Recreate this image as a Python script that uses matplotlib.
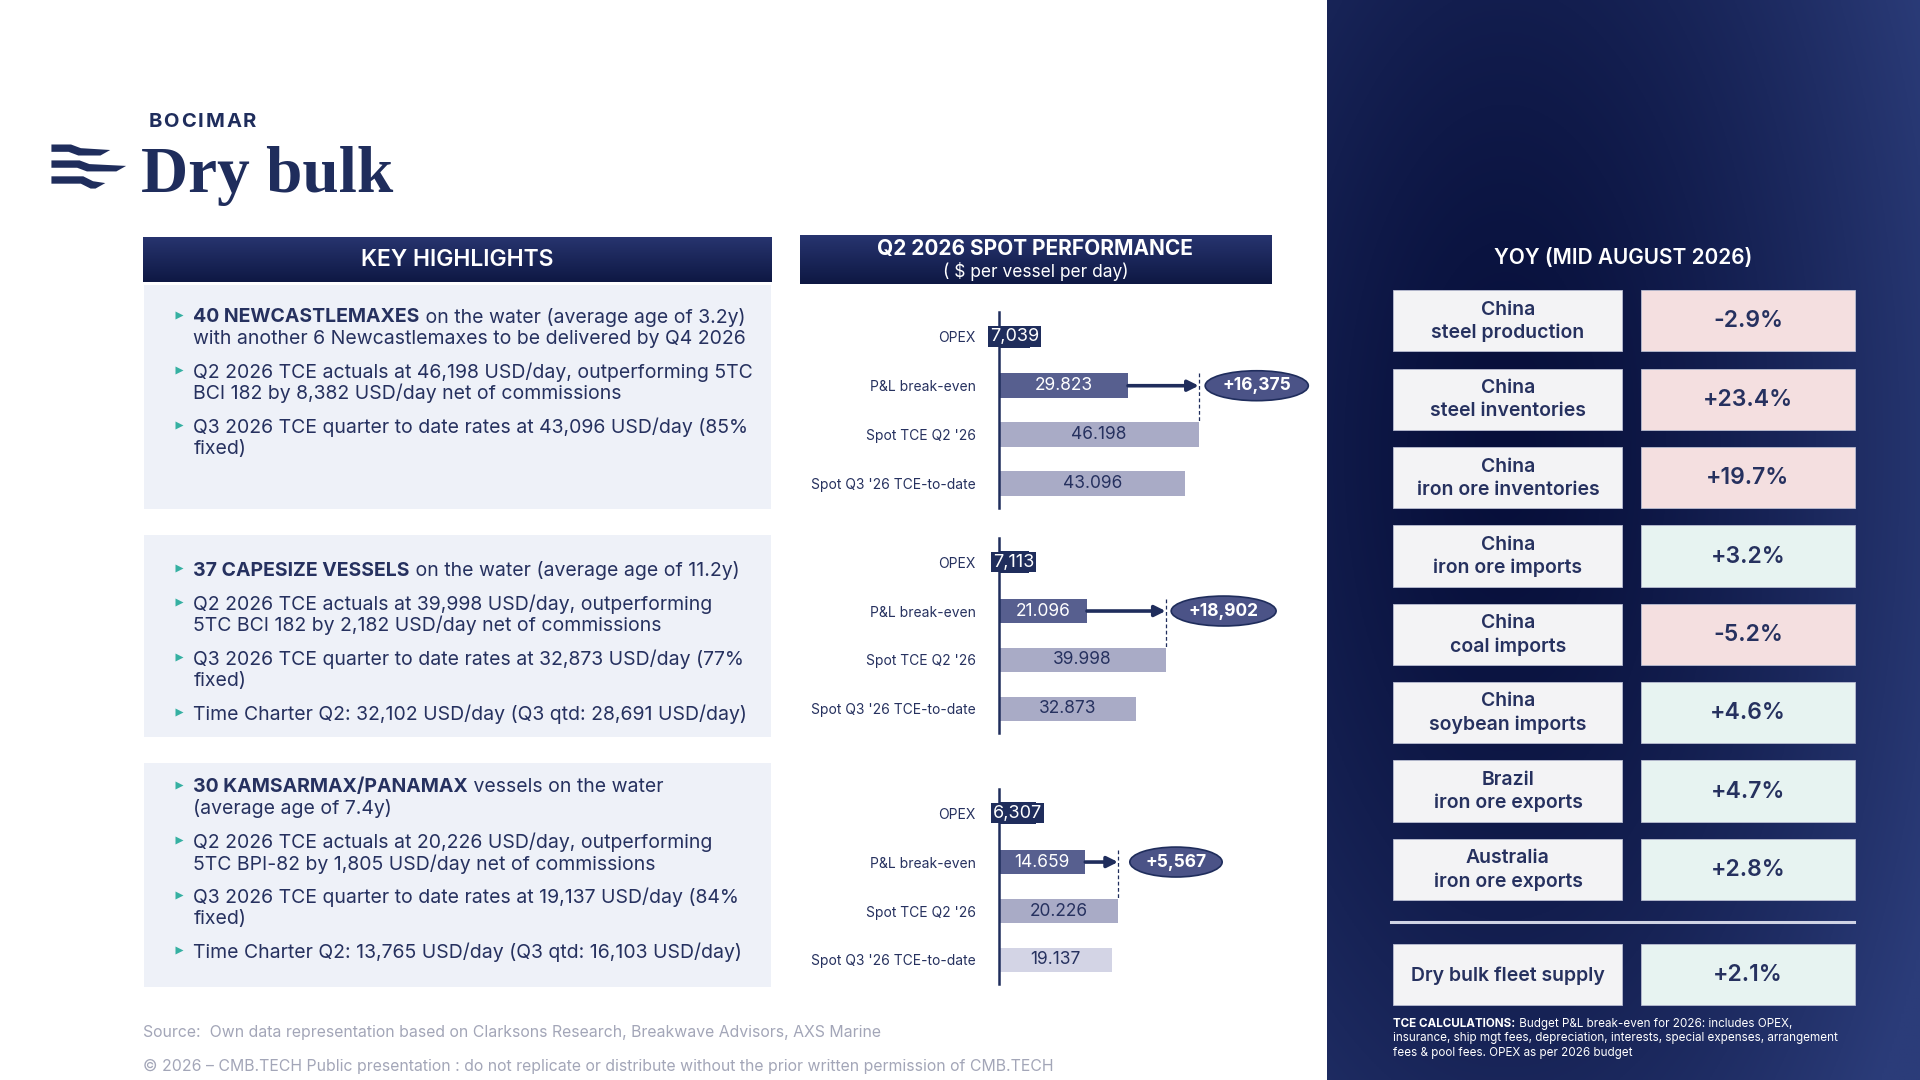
import numpy as np
import matplotlib.pyplot as plt
from matplotlib.patches import Rectangle, Polygon
from matplotlib.colors import to_rgb

plt.rcParams['font.family'] = ['Inter', 'DejaVu Sans']

# slide grid used for placing the panels (1568 x 882 units)
W, H = 1568, 882

# ---- data ----
bar_cats = ["OPEX", "P&L break-even", "Spot TCE Q2 '26", "Spot Q3 '26 TCE-to-date"]
opex = [7039, 7113, 6307]
breakeven = [29823, 21096, 14659]
spot_q2 = [46198, 39998, 20226]
spot_q3 = [43096, 32873, 19137]
x_max = [73700, 76500, 54200]

yoy_labels = ["China\nsteel production", "China\nsteel inventories", "China\niron ore inventories",
              "China\niron ore imports", "China\ncoal imports", "China\nsoybean imports",
              "Brazil\niron ore exports", "Australia\niron ore exports"]
yoy_values = [-2.9, 23.4, 19.7, 3.2, -5.2, 4.6, 4.7, 2.8]
yoy_bad = [True, True, True, False, True, False, False, False]
fleet_label = "Dry bulk fleet supply"
fleet_value = 2.1

box1 = [("40 NEWCASTLEMAXES", [" on the water (average age of 3.2y)",
                               "with another 6 Newcastlemaxes to be delivered by Q4 2026"]),
        ("", ["Q2 2026 TCE actuals at 46,198 USD/day, outperforming 5TC",
              "BCI 182 by 8,382 USD/day net of commissions"]),
        ("", ["Q3 2026 TCE quarter to date rates at 43,096 USD/day (85%", "fixed)"])]
box2 = [("37 CAPESIZE VESSELS", [" on the water (average age of 11.2y)"]),
        ("", ["Q2 2026 TCE actuals at 39,998 USD/day, outperforming",
              "5TC BCI 182 by 2,182 USD/day net of commissions"]),
        ("", ["Q3 2026 TCE quarter to date rates at 32,873 USD/day (77%", "fixed)"]),
        ("", ["Time Charter Q2: 32,102 USD/day (Q3 qtd: 28,691 USD/day)"])]
box3 = [("30 KAMSARMAX/PANAMAX", [" vessels on the water", "(average age of 7.4y)"]),
        ("", ["Q2 2026 TCE actuals at 20,226 USD/day, outperforming",
              "5TC BPI-82 by 1,805 USD/day net of commissions"]),
        ("", ["Q3 2026 TCE quarter to date rates at 19,137 USD/day (84%", "fixed)"]),
        ("", ["Time Charter Q2: 13,765 USD/day (Q3 qtd: 16,103 USD/day)"])]

navy = '#1f2d5c'
ink = '#26315f'
teal = '#35b0a2'

fig = plt.figure(figsize=(19.2, 10.8), dpi=100)
ax = fig.add_axes([0, 0, 1, 1])
ax.set_xlim(0, W)
ax.set_ylim(H, 0)
ax.axis('off')
renderer = fig.canvas.get_renderer()
px2u = W / 1920.0


def vgrad(x0, x1, y0, y1, top, bottom):
    c = np.linspace(0, 1, 64)[:, None, None]
    img = np.array(to_rgb(top)) * (1 - c) + np.array(to_rgb(bottom)) * c
    img = np.repeat(img, 2, axis=1)
    ax.imshow(img, extent=[x0, x1, y1, y0], aspect='auto', zorder=1)


# right dark panel
u, v = np.meshgrid(np.linspace(0, 1, 240), np.linspace(0, 1, 400))
d = np.clip(np.sqrt(((u - 0.3) / 0.8) ** 2 + ((v - 0.42) / 0.95) ** 2), 0, 1) ** 1.4
dark, light = np.array(to_rgb('#070f3a')), np.array(to_rgb('#2b3c79'))
panel = dark * (1 - d[..., None]) + light * d[..., None]
ax.imshow(panel, extent=[1084, W, H, 0], aspect='auto', zorder=0)

# logo
def stripe(y, xb, xe, dr):
    pts = [(42, y), (xb, y), (xb + 8, y + dr), (xe, y + dr + 1.5), (xe - 8, y + dr + 6),
           (xb + 6, y + dr + 6), (xb - 2, y + 6), (42, y + 6)]
    ax.add_patch(Polygon(pts, closed=True, fc=navy, ec='none', zorder=2))

stripe(118, 58, 90, 3)
stripe(131, 65, 103, 3)
stripe(144, 68, 86, 4)

xb = 121
for ch in "BOCIMAR":
    tt = ax.text(xb, 104, ch, fontsize=14.5, fontweight='bold', color=navy, va='baseline', zorder=3)
    xb += tt.get_window_extent(renderer).width * px2u + 1.6
ax.text(115, 157, "Dry bulk", fontsize=47, fontweight='bold', family='Liberation Serif',
        color=navy, va='baseline', zorder=3)

# key highlights
vgrad(117, 630, 194, 230, '#27346f', '#0e1843')
ax.text(373.5, 212, "KEY HIGHLIGHTS", fontsize=16.5, fontweight='semibold', color='white',
        ha='center', va='center', zorder=3)

for (y0, y1) in [(233, 416), (437, 602), (623, 806)]:
    ax.add_patch(Rectangle((118, y0), 512, y1 - y0, fc='#eef1f8', ec='none', zorder=1))


def bullets(items, y):
    for bold, lines in items:
        ax.plot(146, y - 2, marker='>', ms=6, color=teal, mec='none', zorder=3)
        x = 158
        if bold:
            t = ax.text(x, y, bold, fontsize=14, fontweight='bold', color=ink,
                        va='center', zorder=3)
            x += t.get_window_extent(renderer).width * px2u
        for k, line in enumerate(lines):
            ax.text(x if k == 0 else 158, y, line, fontsize=14, color=ink,
                    va='center', zorder=3)
            y += 17.5
        y += 10


bullets(box1, 259)
bullets(box2, 466)
bullets(box3, 643)

# spot performance header
vgrad(653, 1038, 192, 232, '#27346f', '#0e1843')
ax.text(845.5, 203, "Q2 2026 SPOT PERFORMANCE", fontsize=15, fontweight='bold',
        color='white', ha='center', va='center', zorder=3)
ax.text(845.5, 222, "( $ per vessel per day)", fontsize=12.5, color='white',
        ha='center', va='center', zorder=3)

# bar charts
q3_colors = ['#a9abc6', '#a9abc6', '#d3d4e5']
chart_tops = [255, 439, 644]
rows = np.arange(4)
for i, top in enumerate(chart_tops):
    axc = fig.add_axes([816 / W, 1 - (top + 160) / H, 260 / W, 160 / H])
    axc.patch.set_alpha(0)
    vals = [opex[i], breakeven[i], spot_q2[i], spot_q3[i]]
    cols = [navy, '#575f8f', '#a9abc6', q3_colors[i]]
    axc.barh(rows, vals, height=[0.45, 0.5, 0.5, 0.5], color=cols, zorder=2)
    axc.set_xlim(0, x_max[i])
    axc.set_ylim(3.5, -0.5)
    for s in ['top', 'right', 'bottom']:
        axc.spines[s].set_visible(False)
    axc.spines['left'].set_color(navy)
    axc.spines['left'].set_linewidth(1.8)
    axc.spines['left'].set_zorder(4)
    axc.set_xticks([])
    axc.set_yticks(rows, bar_cats)
    axc.tick_params(axis='y', length=0, pad=17, labelsize=10, labelcolor=ink)

    axc.text(opex[i] / 2, 0, f"{opex[i]:,}", fontsize=13, color='white', ha='center',
             va='center', zorder=5,
             bbox=dict(boxstyle='square,pad=0.1', fc=navy, ec='none'))
    for r in (1, 2, 3):
        axc.text(vals[r] / 2, r, f"{vals[r]:,}".replace(",", "."), fontsize=12.5,
                 color='white' if r == 1 else ink, ha='center', va='center', zorder=5)
    axc.annotate('', xy=(spot_q2[i], 1), xytext=(breakeven[i], 1),
                 arrowprops=dict(arrowstyle='-|>', color=navy, lw=2.6, mutation_scale=16,
                                 shrinkA=0, shrinkB=0), zorder=3)
    axc.plot([spot_q2[i]] * 2, [0.75, 1.75], ls=(0, (3, 2)), color=navy, lw=0.9, zorder=3)
    axc.annotate(f"+{spot_q2[i] - breakeven[i]:,}", xy=(spot_q2[i], 1),
                 xytext=(58, 0), textcoords='offset pixels', ha='center', va='center',
                 fontsize=12.5, fontweight='bold', color='white', annotation_clip=False,
                 bbox=dict(boxstyle='ellipse,pad=0.12', fc='#4b5387', ec=navy, lw=1.2))

# YOY panel
ax.text(1326, 211, "YOY (MID AUGUST 2026)", fontsize=15, fontweight='semibold',
        color='white', ha='center', va='center', zorder=3)
pink, mint = '#f4dfe0', '#e7f3f1'


def yoy_row(y, label, value, bad):
    ax.add_patch(Rectangle((1138, y), 187, 50, fc='#f3f3f5', ec='#b9bdd2', lw=0.6, zorder=2))
    ax.add_patch(Rectangle((1340, y), 175, 50, fc=pink if bad else mint, ec='#b9bdd2',
                           lw=0.6, zorder=2))
    ax.text(1231.5, y + 25.5, label, fontsize=14, fontweight='semibold', color=ink,
            ha='center', va='center', linespacing=1.35, zorder=3)
    ax.text(1427.5, y + 25.5, f"{value:+.1f}%", fontsize=16.5, fontweight='semibold',
            color=ink, ha='center', va='center', zorder=3)


for k, (lab, val, bad) in enumerate(zip(yoy_labels, yoy_values, yoy_bad)):
    yoy_row(237 + 64 * k, lab, val, bad)
ax.plot([1136, 1514], [753, 753], color='#cfd3e4', lw=2.2, zorder=3)
yoy_row(771, fleet_label, fleet_value, False)

t = ax.text(1138, 836, "TCE CALCULATIONS:", fontsize=8.4, fontweight='bold', color='white',
            va='center', zorder=3)
xw = 1138 + t.get_window_extent(renderer).width * px2u
ax.text(xw, 836, " Budget P&L break-even for 2026: includes OPEX,", fontsize=8.4,
        color='white', va='center', zorder=3)
ax.text(1138, 848, "insurance, ship mgt fees, depreciation, interests, special expenses, arrangement",
        fontsize=8.4, color='white', va='center', zorder=3)
ax.text(1138, 860, "fees & pool fees. OPEX as per 2026 budget", fontsize=8.4, color='white',
        va='center', zorder=3)

# footer
ax.text(117, 843, "Source:  Own data representation based on Clarksons Research, Breakwave Advisors, AXS Marine",
        fontsize=11.4, color='#a3a6b8', va='center', zorder=3)
ax.text(117, 871, "\u00a9 2026 \u2013 CMB.TECH Public presentation : do not replicate or distribute without the prior written permission of CMB.TECH",
        fontsize=11.4, color='#a3a6b8', va='center', zorder=3)

fig.savefig('out.png', dpi=100)
